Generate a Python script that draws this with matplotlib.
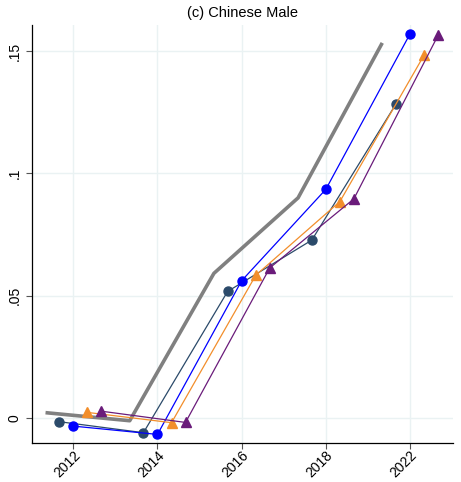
import matplotlib
matplotlib.use("Agg")
import matplotlib.pyplot as plt
import numpy as np

plt.rcParams['font.family'] = ['Liberation Sans', 'DejaVu Sans']

waves = ["2012", "2014", "2016", "2018", "2022"]
gray_vals = [0.0021, -0.0012, 0.0591, 0.0900, 0.1534]
navy_vals = [-0.0016, -0.0061, 0.0517, 0.0727, 0.1284]
blue_vals = [-0.0034, -0.0068, 0.0561, 0.0935, 0.1571]
orange_vals = [0.0022, -0.0020, 0.0583, 0.0885, 0.1484]
purple_vals = [0.0027, -0.0019, 0.0613, 0.0896, 0.1565]

title = "(c) Chinese Male"
ytick_vals = [0, 0.05, 0.10, 0.15]
ytick_labels = ["0", ".05", ".1", ".15"]

fig = plt.figure(figsize=(4.61, 4.82), dpi=100)
ax = fig.add_axes([0.0688, 0.0815, 0.9138, 0.8665])

x = np.arange(len(waves))
ax.plot(x - 0.33, gray_vals, color="#808080", lw=2.6, zorder=2, solid_capstyle="butt")
ax.plot(x - 0.167, navy_vals, color="#2b4a6a", lw=0.9, marker="o", ms=6.5, zorder=3)
ax.plot(x, blue_vals, color="#0000ff", lw=0.9, marker="o", ms=6.5, zorder=3)
ax.plot(x + 0.167, orange_vals, color="#f28e2b", lw=0.9, marker="^", ms=6.5, zorder=3)
ax.plot(x + 0.333, purple_vals, color="#6a1b7a", lw=0.9, marker="^", ms=6.5, zorder=3)

ax.set_xlim(-0.494, 4.51)
ax.set_ylim(-0.0102, 0.1607)
ax.set_xticks(x)
ax.set_xticklabels(waves, rotation=45, ha="right", va="top", rotation_mode="anchor", fontsize=10)
ax.set_yticks(ytick_vals)
ax.set_yticklabels(ytick_labels, rotation=90, va="center", fontsize=10)
ax.grid(True, color="#eaf2f3", lw=1.0, zorder=0)
ax.set_axisbelow(True)
for s in ["top", "right"]:
    ax.spines[s].set_visible(False)
for s in ["left", "bottom"]:
    ax.spines[s].set_color("black")
    ax.spines[s].set_linewidth(0.9)
ax.tick_params(length=4, width=0.8, color="#555555", pad=3)
ax.tick_params(axis="x", pad=0)
ax.set_title(title, fontsize=10.5, pad=6)

fig.savefig("out.png", dpi=100)
